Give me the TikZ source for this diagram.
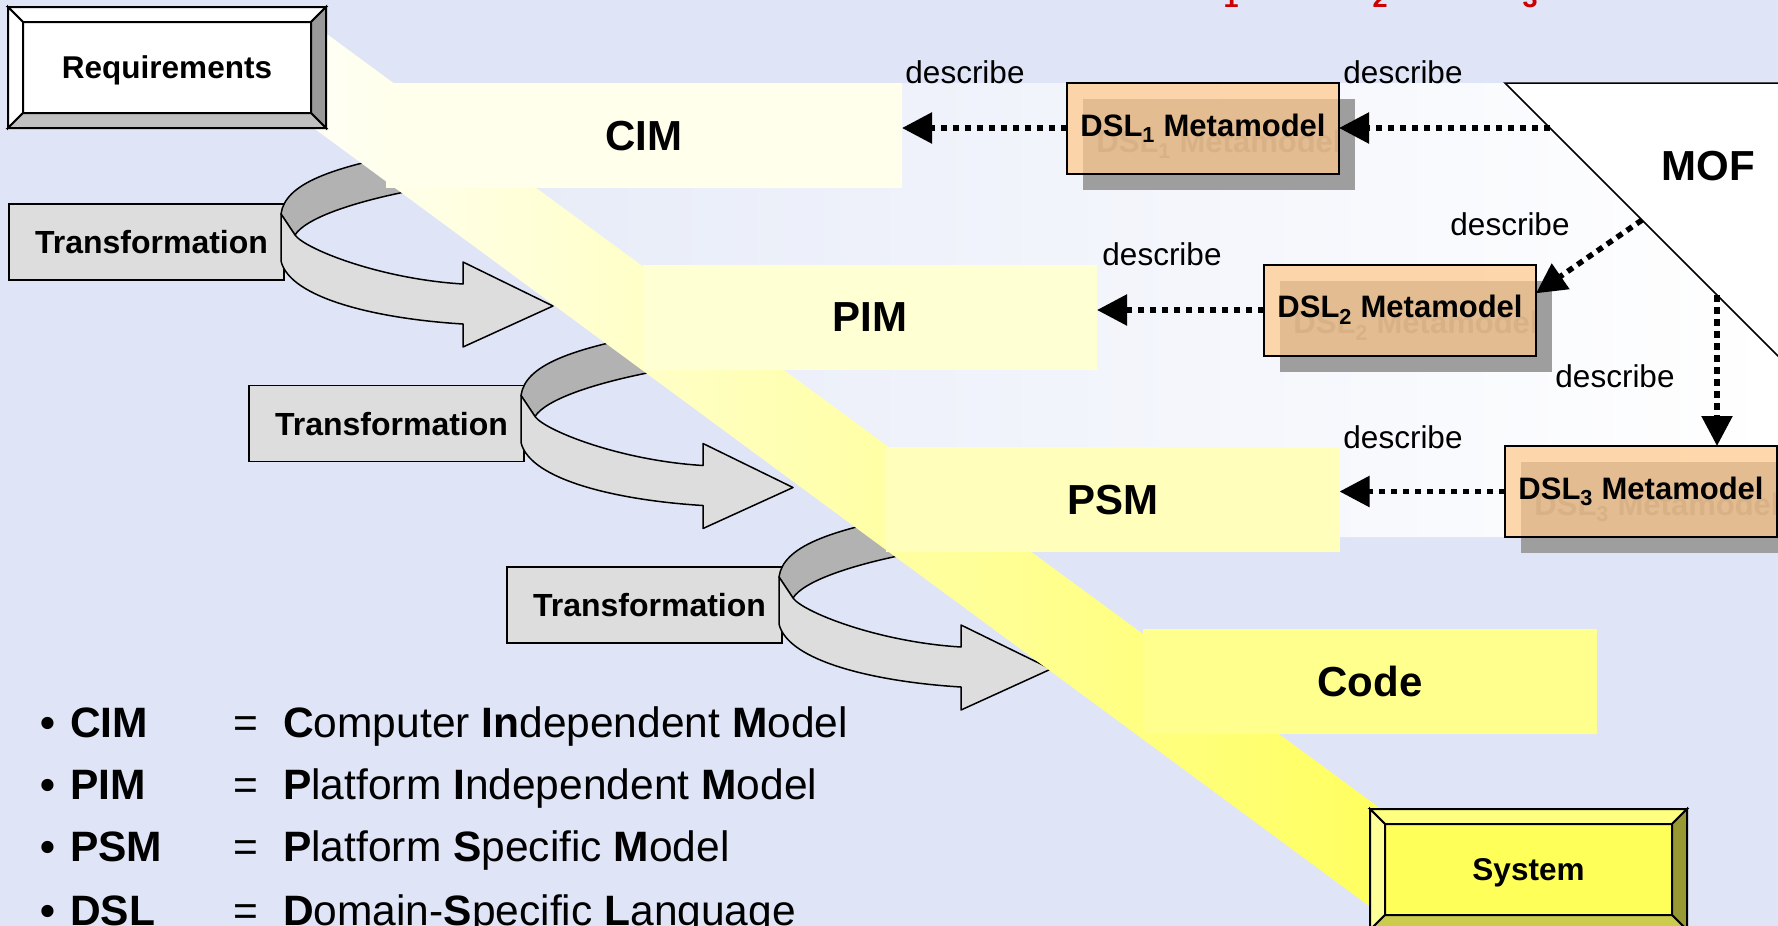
\documentclass[tikz,border=0pt]{standalone}
\usepackage{fontspec}
\setmainfont{Liberation Sans}
\usetikzlibrary{arrows.meta, calc, positioning}
\definecolor{slidebg}{RGB}{223,229,246}
\definecolor{paleside}{RGB}{228,233,247}
\definecolor{cimfill}{RGB}{255,255,235}
\definecolor{pimfill}{RGB}{255,255,212}
\definecolor{psmfill}{RGB}{255,255,187}
\definecolor{codefill}{RGB}{255,255,142}
\definecolor{beamstart}{RGB}{255,255,248}
\definecolor{beammid}{RGB}{255,255,196}
\definecolor{beamend}{RGB}{255,255,92}
\definecolor{dslfill}{RGB}{255,200,140}
\definecolor{shadowgray}{RGB}{158,158,158}
\definecolor{ghosttext}{RGB}{119,119,119}
\definecolor{curlback}{RGB}{178,178,178}
\definecolor{curlfront}{RGB}{221,221,221}
\definecolor{sysface}{RGB}{255,255,90}
\definecolor{systop}{RGB}{255,255,128}
\definecolor{sysleft}{RGB}{255,255,153}
\definecolor{sysright}{RGB}{153,153,51}
\definecolor{sysbottom}{RGB}{204,204,76}
\definecolor{reqright}{RGB}{153,153,153}
\definecolor{reqbottom}{RGB}{192,192,192}
\definecolor{titlered}{RGB}{204,0,0}

% raised frame round a face node: top, left, right, bottom strip colours
\newcommand\bevelframe[5]{%
  \path[bevelline, fill=#2] ($(#1.north west)+(-15,-15)$) -- ($(#1.north east)+(15,-15)$) -- (#1.north east) -- (#1.north west) -- cycle;
  \path[bevelline, fill=#3] ($(#1.north west)+(-15,-15)$) -- (#1.north west) -- (#1.south west) -- ($(#1.south west)+(-15,15)$) -- cycle;
  \path[bevelline, fill=#4] ($(#1.north east)+(15,-15)$) -- ($(#1.south east)+(15,15)$) -- (#1.south east) -- (#1.north east) -- cycle;
  \path[bevelline, fill=#5] ($(#1.south west)+(-15,15)$) -- (#1.south west) -- (#1.south east) -- ($(#1.south east)+(15,15)$) -- cycle;
}

% curled ribbon arrow leaving a transformation box
\newcommand\curlarrow[1]{%
  \begin{scope}[shift={(#1.north east)}]
    \filldraw[curl, fill=curlback] (-3,10) .. controls (1,-20) and (46,-37) .. (136,-53)
      -- (136,-15) .. controls (66,-2) and (21,15) .. (11,31) -- cycle;
    \filldraw[curl, fill=curlfront] (-3,10) -- (-3,57) .. controls (6,95) and (96,115) .. (179,120)
      -- (179,143) -- (269,102) -- (179,58) -- (179,80) .. controls (96,75) and (21,45) .. (11,31) -- cycle;
  \end{scope}}

% metamodel box with its shadow
\newcommand\dslbox[3]{%
  \node[dslshade] (#1shadow) at ($(#2)+(16,16)$) {DSL\textsubscript{#3} Metamodel};
  \node[dsl] (#1) at (#2) {DSL\textsubscript{#3} Metamodel};}

\begin{document}
\begin{tikzpicture}[
    x=1pt, y=-1pt,
    face/.style={draw, line width=2pt, inner sep=0pt, outer sep=0pt, minimum height=91pt, text depth=0pt,
                 font=\fontsize{31.5}{36}\selectfont\bfseries},
    bevelline/.style={draw, line width=2pt, line join=miter},
    transbox/.style={draw, line width=1.5pt, fill=curlfront, inner sep=0pt, outer sep=0pt, text depth=0pt,
                     minimum width=275pt, minimum height=76pt, font=\fontsize{32}{36}\selectfont\bfseries},
    curl/.style={line width=1.5pt, line join=round},
    model/.style={inner sep=0pt, outer sep=0pt, minimum width=454pt, minimum height=105pt, text depth=0pt,
                  font=\fontsize{42}{48}\selectfont\bfseries},
    dsl/.style={draw, line width=2pt, fill=dslfill, fill opacity=0.72, text opacity=1, inner sep=0pt,
                outer sep=0pt, minimum width=272pt, minimum height=91pt, font=\fontsize{31}{34}\selectfont\bfseries},
    dslshade/.style={fill=shadowgray, text=ghosttext, inner sep=0pt, outer sep=0pt, minimum width=272pt,
                     minimum height=91pt, font=\fontsize{31}{34}\selectfont\bfseries},
    describe/.style={line width=5.5pt, dash pattern=on 6.5pt off 5.5pt, -{Triangle[length=30pt, width=30pt]}},
    desclabel/.style={inner sep=0pt, font=\fontsize{31.5}{36}\selectfont},
    redtag/.style={anchor=base, inner sep=0pt, text=titlered, font=\fontsize{27}{30}\selectfont\bfseries},
    legend/.style={anchor=base west, inner sep=0pt, font=\fontsize{42.5}{48}\selectfont}
]
\useasboundingbox (0,0) rectangle (1778,926);
\clip (0,0) rectangle (1778,926);
\fill[slidebg] (0,0) rectangle (1778,926);

% indices of the heading, cut by the top edge
\foreach \i/\x in {1/1231, 2/1380, 3/1530}
  \node[redtag] (idx\i) at (\x,8) {\i};

% pale backdrop of the metamodel side
\shade[left color=paleside, right color=white] (330,83) -- (1778,83) -- (1778,537) -- (950,537) -- cycle;

% Transformations
\node[transbox] (t1) at (146.5,242) {\hspace*{10pt}Transformation};
\node[transbox] (t2) at (386.5,423.5) {\hspace*{10pt}Transformation};
\node[transbox] (t3) at (644.5,605) {\hspace*{10pt}Transformation};
\curlarrow{t1}
\curlarrow{t2}
\curlarrow{t3}

% light beam from requirements down to the system
\shade[left color=beamstart, middle color=beammid, right color=beamend]
  (320,29) -- (1400,823) -- (1380,914) -- (300,118) -- cycle;

% Requirements and System
\node[face, fill=white, minimum width=288pt] (req) at (167,67.5) {Requirements};
\bevelframe{req}{white}{white}{reqright}{reqbottom}
\node[face, fill=sysface, minimum width=287pt] (sys) at (1528.5,869.5) {System};
\bevelframe{sys}{systop}{sysleft}{sysright}{sysbottom}

% Models
\node[model, fill=cimfill, minimum width=516pt] (cim) at (644,135.5) {CIM};
\node[model, fill=pimfill] (pim) at (870,317.5) {PIM};
\node[model, fill=psmfill] (psm) at (1112.5,499.5) {PSM};
\node[model, fill=codefill] (code) at (1370,681) {Code};

% MOF
\filldraw[fill=white, line width=1.5pt] (1505,83) -- (1800,83) -- (1800,378) -- cycle;
\node[font=\fontsize{42}{48}\selectfont\bfseries] (mof) at (1708,166) {MOF};
\coordinate (m1) at (1550,128);
\coordinate (m2) at (1642,220);
\coordinate (m3) at (1717,295);

% Metamodels
\dslbox{dsl1}{1203,128}{1}
\dslbox{dsl2}{1400,310}{2}
\dslbox{dsl3}{1641,491.5}{3}

% Arrows
\draw[describe] (m1) -- (dsl1.east);
\draw[describe] (m2) -- (dsl2.7);
\draw[describe] (m3) -- (m3 |- dsl3.north);
\draw[describe] (dsl1.west) -- (dsl1.west -| cim.east);
\draw[describe] (dsl2.west) -- (dsl2.west -| pim.east);
\draw[describe] (dsl3.west) -- (dsl3.west -| psm.east);

\node[desclabel] (d1) at (965,72) {describe};
\node[desclabel] (d2) at (1403,72) {describe};
\node[desclabel] (d3) at (1510,224) {describe};
\node[desclabel] (d4) at (1162,254) {describe};
\node[desclabel] (d5) at (1615,376) {describe};
\node[desclabel] (d6) at (1403,437) {describe};

% Legend
\foreach \y [count=\k] in {737, 799, 861, 925} {
  \node[legend] (lb\k) at (40,\y) {\bfseries •};
  \node[legend] (le\k) at (233,\y) {=};
}
\node[legend] (la1) at (70,737) {\bfseries CIM};
\node[legend] (la2) at (70,799) {\bfseries PIM};
\node[legend] (la3) at (70,861) {\bfseries PSM};
\node[legend] (la4) at (70,925) {\bfseries DSL};
\node[legend] (ld1) at (283,737) {\textbf{C}omputer \textbf{In}dependent \textbf{M}odel};
\node[legend] (ld2) at (283,799) {\textbf{P}latform \textbf{I}ndependent \textbf{M}odel};
\node[legend] (ld3) at (283,861) {\textbf{P}latform \textbf{S}pecific \textbf{M}odel};
\node[legend] (ld4) at (283,925) {\textbf{D}omain-\textbf{S}pecific \textbf{L}anguage};

\end{tikzpicture}
\end{document}
